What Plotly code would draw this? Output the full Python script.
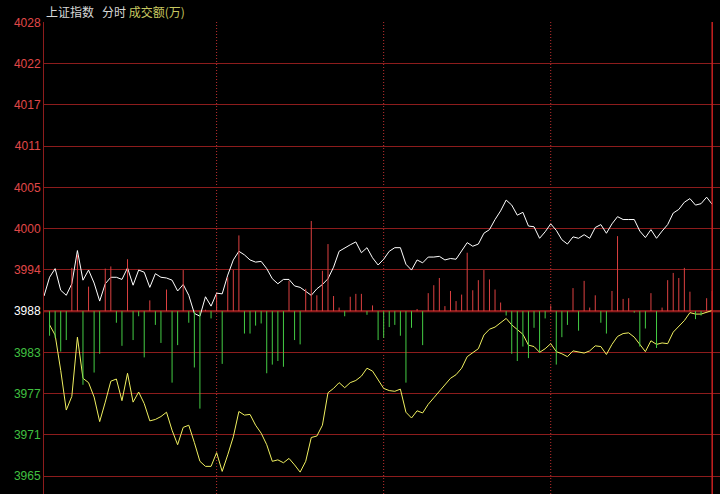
import plotly.graph_objects as go

# 上证指数 分时 - 每个点一根柱
BASE = 3988.0
tick_labels = ["3965", "3971", "3977", "3983", "3988", "3994", "4000", "4005", "4011", "4017", "4022", "4028"]

index_line = [3990.1, 3992.7, 3993.9, 3990.9, 3990.2, 3991.8, 3996.4, 3992.3, 3993.7, 3991.9,
              3989.4, 3991.8, 3992.7, 3992.7, 3992.4, 3994.0, 3991.6, 3993.7, 3993.4, 3991.3,
              3993.2, 3992.7, 3992.6, 3992.3, 3990.8, 3991.7, 3990.2, 3987.7, 3987.3, 3990.0,
              3988.7, 3990.5, 3990.4, 3993.0, 3995.1, 3996.3, 3995.8, 3995.1, 3994.8, 3994.9,
              3993.9, 3992.5, 3991.8, 3992.4, 3992.4, 3991.5, 3991.3, 3990.8, 3990.2, 3991.1,
              3991.7, 3992.5, 3994.1, 3996.3, 3996.8, 3997.2, 3997.6, 3996.1, 3996.8, 3995.4,
              3994.4, 3995.2, 3996.3, 3996.8, 3996.8, 3994.5, 3993.7, 3995.1, 3994.7, 3995.5,
              3995.5, 3995.6, 3995.1, 3995.3, 3995.2, 3996.3, 3997.5, 3997.0, 3997.3, 3998.8,
              3999.3, 4000.7, 4001.9, 4003.4, 4002.7, 4001.3, 4001.7, 3999.8, 3999.7, 3998.1,
              3999.0, 4000.1, 3999.2, 3997.9, 3997.3, 3998.3, 3998.1, 3998.6, 3998.1, 3999.6,
              4000.0, 3998.8, 4000.1, 4001.1, 4000.7, 4000.7, 4000.7, 3999.1, 3998.2, 3999.3,
              3998.1, 3999.1, 4000.0, 4001.6, 4002.1, 4003.1, 4003.6, 4002.7, 4002.9, 4003.8,
              4002.8]

avg_line = [None, 3986.1, 3984.7, 3979.8, 3974.3, 3976.2, 3984.4, 3978.7, 3978.1, 3976.1,
            3972.7, 3975.4, 3978.3, 3978.6, 3975.6, 3979.4, 3975.4, 3976.8, 3975.2, 3972.8,
            3973.0, 3973.4, 3974.0, 3971.5, 3969.5, 3971.9, 3972.2, 3969.8, 3967.2, 3966.5,
            3966.5, 3968.4, 3965.8, 3968.1, 3970.6, 3974.1, 3973.6, 3973.7, 3972.2, 3971.1,
            3969.5, 3967.2, 3967.4, 3967.0, 3967.6, 3966.7, 3965.7, 3967.2, 3970.5, 3970.7,
            3972.2, 3976.7, 3977.3, 3978.1, 3977.4, 3978.1, 3978.4, 3979.0, 3980.1, 3979.7,
            3978.5, 3977.3, 3977.0, 3976.9, 3977.2, 3974.0, 3973.2, 3974.2, 3973.9, 3975.1,
            3976.0, 3976.9, 3977.9, 3978.7, 3979.2, 3980.1, 3981.7, 3982.3, 3982.8, 3984.7,
            3985.5, 3985.8, 3986.4, 3987.0, 3986.1, 3985.4, 3984.8, 3983.3, 3983.1, 3982.3,
            3982.8, 3983.5, 3982.4, 3982.1, 3981.7, 3982.5, 3982.3, 3982.2, 3982.5, 3983.2,
            3983.1, 3982.0, 3983.4, 3984.5, 3984.9, 3985.0, 3984.4, 3983.4, 3982.4, 3983.9,
            3983.4, 3983.6, 3983.5, 3985.1, 3985.9, 3986.7, 3987.8, 3987.6, 3987.6, 3987.9,
            3988.1]

# 成交额柱 (相对 3988 基线, 正=红, 负=绿)
turnover = [0, -3.4, -3.7, -5.6, -4.0, 6.0, 7.8, -10.2, 3.4, -8.5,
            -5.9, 5.9, 6.2, -1.6, -4.8, 7.2, -4.0, -0.7, -6.4, 1.5,
            -1.9, -4.4, 3.0, -9.9, -4.7, 5.7, -1.6, -7.8, -13.5, 0.2,
            -1.0, 2.4, -7.3, 4.7, 5.7, 10.5, -3.1, -3.1, -2.0, -1.7,
            -8.6, -7.4, -6.9, -7.7, 4.2, -4.0, -4.6, 3.1, 12.5, 2.2,
            5.6, 9.3, 2.1, 0.5, -0.7, 2.0, 2.4, 2.4, -0.5, 0.8,
            -4.0, -3.7, -2.2, -1.9, -3.4, -9.9, -2.3, 0.3, -4.7, 2.5,
            3.6, 4.6, 0.7, 2.8, 1.4, 2.3, 8.1, 2.9, 4.3, 5.7,
            4.4, 3.0, 1.2, -0.6, -5.9, -6.9, -4.9, -6.5, -2.3, -5.7,
            -1.0, 0.8, -7.4, -3.6, -1.9, 3.2, -2.7, 4.2, 0.5, 2.2,
            -1.6, -3.1, 2.8, 10.4, 1.7, 1.8, -0.2, -4.9, -2.4, 2.5,
            -5.1, 0.5, 4.3, 5.3, 4.6, 6.0, 2.7, -1.1, -0.6, 1.8,
            2.8]

hour_marks = [31, 61, 91]
cursor_idx = 120

GRID = "#8c1c1c"
x = list(range(len(index_line)))

up_x, up_y, dn_x, dn_y = [], [], [], []
for i, v in enumerate(turnover):
    if v > 0:
        up_x += [i, i, None]
        up_y += [BASE, BASE + v, None]
    elif v < 0:
        dn_x += [i, i, None]
        dn_y += [BASE, BASE + v, None]

fig = go.Figure()
fig.add_trace(go.Scatter(x=x, y=index_line, mode="lines", line=dict(color="#ffffff", width=1)))
fig.add_trace(go.Scatter(x=x, y=avg_line, mode="lines", line=dict(color="#f0f060", width=1)))
fig.add_trace(go.Scatter(x=up_x, y=up_y, mode="lines", line=dict(color="#dc4040", width=1), hoverinfo="skip"))
fig.add_trace(go.Scatter(x=dn_x, y=dn_y, mode="lines", line=dict(color="#44cc44", width=1), hoverinfo="skip"))

# 整点虚线
for m in hour_marks:
    fig.add_vline(x=m, line=dict(color="#c03030", width=1, dash="1px,2px"), layer="below")
fig.add_vline(x=cursor_idx, line=dict(color="#c82020", width=1.5))
fig.add_hline(y=BASE, line=dict(color="#b42424", width=2), layer="below")

step = 40 / 7
tickvals = [BASE + (k - 4) * step for k in range(len(tick_labels))]
ticktext = []
for k, lab in enumerate(tick_labels):
    c = "#40c040" if k < 4 else ("#ffffff" if k == 4 else "#e04848")
    ticktext.append(f"<span style='color:{c}'>{lab}</span>")

fig.add_annotation(xref="paper", yref="paper", x=0, y=1, xanchor="left", yanchor="middle", yshift=11,
                   text="上证指数&nbsp;&nbsp;&nbsp;分时&nbsp;<span style='color:#c8c860'>成交额(万)</span>",
                   showarrow=False, font=dict(color="#d8d8d8", size=12, family="Noto Sans CJK SC"))

fig.update_layout(
    width=720, height=494,
    margin=dict(l=44, r=0, t=22, b=0, autoexpand=False),
    paper_bgcolor="#000000", plot_bgcolor="#000000",
    showlegend=False,
    font=dict(family="Liberation Sans", size=12),
    xaxis=dict(range=[0, 121.4], showgrid=False, zeroline=False, showticklabels=False,
               showline=False, automargin=False),
    yaxis=dict(range=[BASE - 25.33, 4028.07], tickvals=tickvals, ticktext=ticktext,
               showgrid=True, gridcolor=GRID, gridwidth=1, zeroline=False, automargin=False,
               showline=True, linecolor=GRID, linewidth=1, ticks=""),
)

# 页面默认 body 边距去掉, 让图贴齐窗口
fig.write_html("out.html", config={"displayModeBar": False},
               post_script="document.body.style.margin='0px';document.body.style.background='#000';")
